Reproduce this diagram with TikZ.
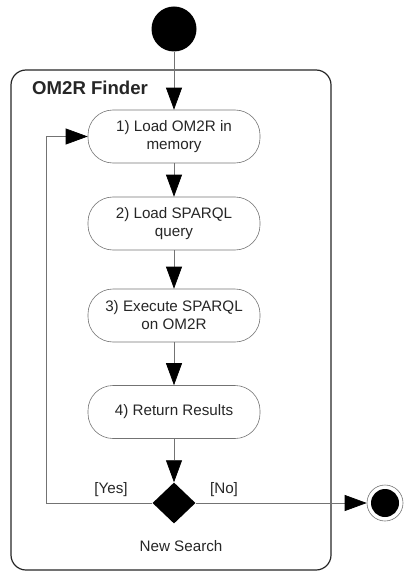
\documentclass[tikz,border=0pt]{standalone}
\usepackage{fontspec}
\setmainfont{Liberation Sans}
\usetikzlibrary{arrows.meta,shapes.geometric}

\definecolor{linegray}{gray}{0.45}
\definecolor{textdark}{gray}{0.15}

\tikzset{
  activity/.style={draw=linegray, line width=0.6pt, rounded corners=25pt,
    minimum width=172pt, minimum height=53pt, align=center,
    font=\fontsize{15.2}{18}\selectfont, text=textdark, inner sep=2pt},
  flow/.style={draw=linegray, line width=0.7pt,
    -{Triangle[length=22pt,width=16pt,fill=black,color=black]}},
  label/.style={font=\fontsize{15.2}{18}\selectfont, text=textdark, inner sep=0pt},
}

\begin{document}
\begin{tikzpicture}[x=1pt,y=-1pt]
  \useasboundingbox (0,0) rectangle (404,572);

  % enclosing activity frame
  \draw[line width=1.2pt, color=black!85, rounded corners=15pt] (11,70) rectangle (331,570);
  \node[anchor=base west, inner sep=0pt, font=\fontsize{18.6}{22}\selectfont\bfseries, text=textdark]
    (title) at (32,95) {OM2R Finder};

  % start and end states
  \node[circle, fill=black, minimum size=45pt, inner sep=0pt] (start) at (174,29) {};
  \node[circle, draw=linegray, line width=0.6pt, minimum size=36pt, inner sep=0pt] (end) at (385,503) {};
  \node[circle, fill=black, minimum size=28pt, inner sep=0pt] (endin) at (385,503) {};

  % actions
  \node[activity] (a1) at (174,136.5) {1) Load OM2R in\\memory};
  \node[activity] (a2) at (174,223.5) {2) Load SPARQL\\query};
  \node[activity] (a3) at (174,315.5) {3) Execute SPARQL\\on OM2R};
  \node[activity] (a4) at (174,412) {4) Return Results};

  % decision
  \node[diamond, fill=black, minimum width=43pt, minimum height=41pt, inner sep=0pt] (dec) at (174,503) {};
  \node[label, anchor=base] (nsearch) at (181,551) {New Search};
  \node[label, anchor=base] (yes) at (111,493) {[Yes]};
  \node[label, anchor=base] (no) at (224,493) {[No]};

  % control flow
  \coordinate (loopbot) at (46,503);
  \coordinate (looptop) at (46,136.5);
  \draw[flow] (start) -- (a1);
  \draw[flow] (a1) -- (a2);
  \draw[flow] (a2) -- (a3);
  \draw[flow] (a3) -- (a4);
  \draw[flow] (a4) -- (dec);
  \draw[flow] (dec.west) -- (loopbot) -- (looptop) -- (a1.west);
  \draw[flow] (dec.east) -- (end);
\end{tikzpicture}
\end{document}
